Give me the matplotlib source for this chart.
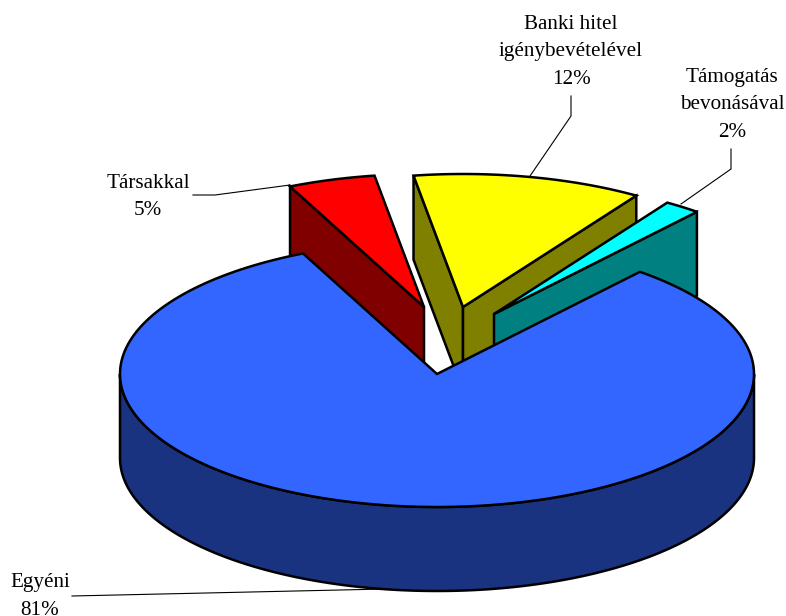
"""Kördiagram: vállalkozás indítása (térhatású, kiemelt szeletek)"""
import numpy as np
import matplotlib
matplotlib.use("Agg")
import matplotlib.pyplot as plt
from matplotlib.patches import Polygon

plt.rcParams["font.family"] = ["Liberation Serif", "DejaVu Serif"]

# adatok: a szögek a képről becsülve, a feliratok a képről olvasva
categories = ["Egyéni", "Társakkal", "Banki hitel\nigénybevételével", "Támogatás\nbevonásával"]
shares = [82.0, 4.45, 11.7, 1.85]
percent_labels = [81, 5, 12, 2]

top_colors = ["#3366FF", "#FF0000", "#FFFF00", "#00FFFF"]
side_colors = ["#1A3380", "#800000", "#808000", "#008080"]

# geometria pixelben
cx, cy = 437, 374
rx, ry = 317, 133
depth = 84
start_angle = 115
# kiemelés: (dx, dy) a fő szelet középpontjához képest
offsets = [(0, 0), (-13, -67), (26, -67), (57, -60)]
# rajzolási sorrend: hátsó szeletek, majd a fő szelet
draw_order = [2, 3, 1, 0]
# címkék első sorának alapvonala
label_pos = [(40, 587.5), (148, 188), (571, 29), (732, 82)]
leaders = [
    [(72, 596), (385, 589)],
    [(193, 195), (215, 195), (290, 185)],
    [(571, 96), (571, 116), (530, 176)],
    [(731, 149), (731, 169), (681, 204)],
]
LW = 1.8


def arc(a1, a2, ox, oy):
    t = np.radians(np.linspace(a1, a2, 200))
    return np.column_stack([ox + rx * np.cos(t), oy - ry * np.sin(t)])


fig = plt.figure(figsize=(7.86, 6.16), dpi=100)
ax = fig.add_axes([0, 0, 1, 1])
ax.set_xlim(0, 786)
ax.set_ylim(616, 0)
ax.axis("off")

# szögtartományok: a fő szelet az óramutató ellen, a többi utána
spans = np.array(shares) * 3.6
a_from = [start_angle]
a_to = [start_angle + spans[0]]
a = start_angle
for s in spans[1:]:
    a_from.append(a - s)
    a_to.append(a)
    a -= s


def draw_face(pts, color, z):
    ax.add_patch(Polygon(pts, closed=True, fc=color, ec="black", lw=LW, joinstyle="miter", zorder=z))


z = 1
for i in draw_order:
    ox, oy = cx + offsets[i][0], cy + offsets[i][1]
    a1, a2 = a_from[i], a_to[i]
    apex = np.array([ox, oy])
    down = np.array([0, depth])
    # külső palást (csak az elülső fél)
    lo, hi = max(a1, 180), min(a2, 360)
    if lo < hi:
        rim = arc(lo, hi, ox, oy)
        draw_face(np.vstack([rim, (rim + down)[::-1]]), side_colors[i], z)
        z += 1
    # vágott lapok: csak a lefelé néző látszik
    if i != 0:
        visible = []
        if np.cos(np.radians(a2)) < 0:
            visible.append(a2)
        if np.cos(np.radians(a1)) > 0:
            visible.append(a1)
        for ang in visible:
            p = arc(ang, ang, ox, oy)[0]
            draw_face([apex, p, p + down, apex + down], side_colors[i], z)
            z += 1
    draw_face(np.vstack([[apex], arc(a1, a2, ox, oy)]), top_colors[i], z)
    z += 1

# címkék és vezetővonalak
for name, pct, pos, line in zip(categories, percent_labels, label_pos, leaders):
    lines = name.split("\n") + [f"{pct}%"]
    for k, txt in enumerate(lines):
        ax.text(pos[0], pos[1] + k * 27.3, txt, ha="center", va="baseline",
                fontsize=15.2, color="black", zorder=z + 1)
    xs, ys = zip(*line)
    ax.plot(xs, ys, color="black", lw=0.8, zorder=z + 1)

fig.savefig("out.png", dpi=100, facecolor="white")
